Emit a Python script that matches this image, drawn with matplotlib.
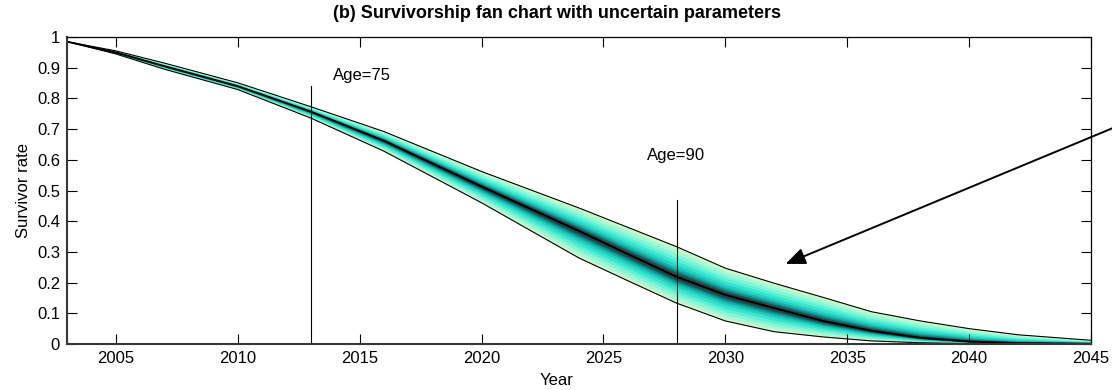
"""Survivorship fan chart with uncertain parameters."""
import numpy as np
import matplotlib
matplotlib.use("Agg")
import matplotlib.pyplot as plt

plt.rcParams["font.family"] = ["Liberation Sans", "DejaVu Sans"]

years = [2003, 2005, 2007, 2010, 2013, 2016, 2020, 2024, 2026, 2028,
         2030, 2032, 2034, 2036, 2038, 2040, 2042, 2045]
median = [0.985, 0.950, 0.905, 0.840, 0.757, 0.662, 0.513, 0.368, 0.293, 0.219,
          0.160, 0.117, 0.075, 0.043, 0.020, 0.008, 0.003, 0.001]
upper = [0.985, 0.955, 0.915, 0.851, 0.773, 0.692, 0.562, 0.443, 0.380, 0.317,
         0.247, 0.198, 0.152, 0.105, 0.075, 0.050, 0.030, 0.012]
lower = [0.985, 0.945, 0.895, 0.829, 0.736, 0.628, 0.460, 0.280, 0.206, 0.133,
         0.075, 0.040, 0.023, 0.010, 0.004, 0.001, 0.000, 0.000]

# vertical marker lines (year, height) and their labels (x, y, text)
age_lines = [(2013, 0.84), (2028, 0.47)]
age_labels = [(2013.9, 0.85, "Age=75"), (2026.8, 0.59, "Age=90")]

# quantile bands, outermost first (fraction of the half-width around the median)
band_frac = [1.0, 0.88, 0.76, 0.64, 0.52, 0.40, 0.30, 0.22, 0.15, 0.09]
band_col = ["#c8fac8", "#a8f8d4", "#84f6d8", "#5cf0d4", "#38e4cc",
            "#22d0c0", "#18b0a8", "#108a88", "#0c5c5c", "#383838"]

x = np.array(years, float)
m = np.array(median); up = np.array(upper); lo = np.array(lower)

fig = plt.figure(figsize=(11.12, 3.9), dpi=100)
ax = fig.add_axes([0.0603, 0.118, 0.9209, 0.787])

for f, c in zip(band_frac, band_col):
    ax.fill_between(x, m - f * (m - lo), m + f * (up - m), color=c, lw=0)
ax.plot(x, up, color="k", lw=0.8)
ax.plot(x, lo, color="k", lw=0.8)
ax.plot(x, m, color="k", lw=1.3)

for yr, top in age_lines:
    ax.plot([yr, yr], [0, top], color="k", lw=0.8)
for tx, ty, lab in age_labels:
    ax.text(tx, ty, lab, fontsize=12, va="bottom", ha="left")

ax.annotate("", xy=(783, 125), xytext=(1125, 267),
            xycoords="figure pixels", textcoords="figure pixels",
            annotation_clip=False,
            arrowprops=dict(arrowstyle="-|>,head_length=0.6,head_width=0.25",
                            mutation_scale=20, lw=1.4, color="k"))

ax.set_xlim(2003, 2045)
ax.set_ylim(0, 1)
ax.set_xticks(np.arange(2005, 2046, 5))
ax.set_yticks(np.round(np.arange(0, 1.01, 0.1), 1))
ax.set_yticklabels(["0"] + [f"{v:.1f}" for v in np.arange(0.1, 0.95, 0.1)] + ["1"])
ax.tick_params(direction="in", length=7, width=0.8, top=True, right=True,
               labelsize=12, pad=5)
for s in ["left", "bottom"]:
    ax.spines[s].set_linewidth(1.5); ax.spines[s].set_color("#383838")
for s in ["top", "right"]:
    ax.spines[s].set_linewidth(0.9)

ax.set_xlabel("Year", fontsize=12)
ax.xaxis.set_label_coords(0.4785, -0.094)
ax.set_ylabel("Survivor rate", fontsize=12, labelpad=4)
ax.set_title("(b) Survivorship fan chart with uncertain parameters",
             fontsize=13, fontweight="bold", x=0.4785, pad=14)

fig.savefig("out.png", dpi=100)
plt.close(fig)
